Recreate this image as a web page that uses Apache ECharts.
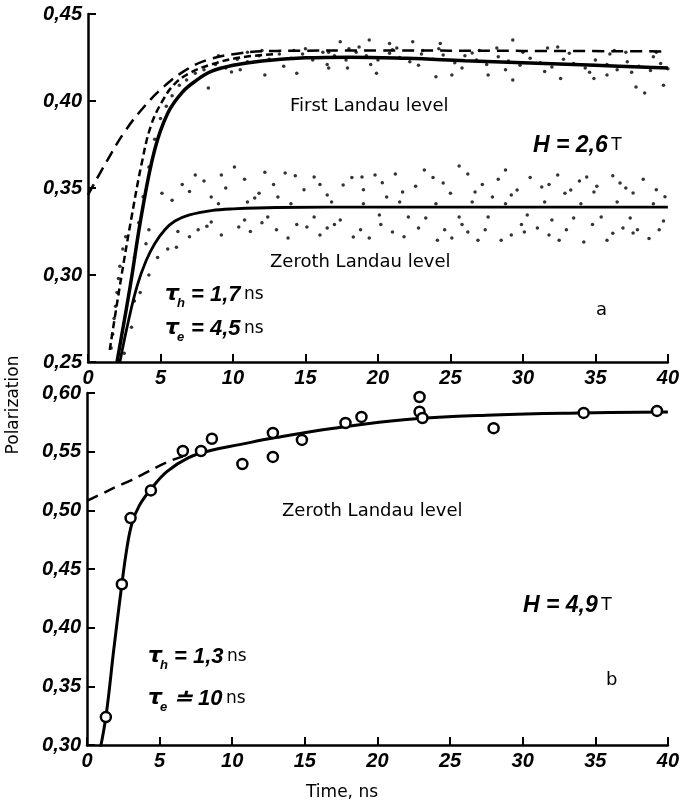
<!DOCTYPE html>
<html>
<head>
<meta charset="utf-8">
<script src="https://cdn.jsdelivr.net/npm/echarts@6.0.0/dist/echarts.min.js"></script>
<style>
  html, body { margin: 0; padding: 0; background: #fff; }
  #chart { width: 682px; height: 803px; }
</style>
</head>
<body>
<div id="chart"></div>
<script>
// ticks
const timeTicks = [0, 5, 10, 15, 20, 25, 30, 35, 40]
const topPolTicks = [0.25, 0.30, 0.35, 0.40, 0.45]
const bottomPolTicks = [0.30, 0.35, 0.40, 0.45, 0.50, 0.55, 0.60]

// panel a: fitted curves [time ns, polarization]
const firstFit = [[2.0, 0.25], [2.9, 0.293], [3.7, 0.335], [4.6, 0.372], [5.5, 0.393], [6.5, 0.405], [7.5, 0.412], [8.5, 0.417], [10, 0.4205], [12, 0.423], [15, 0.4248], [18, 0.4252], [22, 0.4245], [26, 0.4232], [30, 0.422], [35, 0.4205], [40, 0.419]]
const firstDashLong = [[0, 0.346], [1.2, 0.364], [2.5, 0.382], [3.9, 0.397], [5.2, 0.408], [6.6, 0.417], [8.2, 0.4235], [10.5, 0.4275], [13, 0.4288], [20, 0.429], [30, 0.4288], [40, 0.4285]]
const firstDashSteep = [[1.5, 0.257], [2.3, 0.299], [3.0, 0.333], [3.7, 0.364], [4.35, 0.386], [5.2, 0.401], [6.0, 0.41], [7, 0.416], [8.5, 0.421], [10.5, 0.425], [13, 0.427]]
const zerothFit = [[2.2, 0.25], [2.8, 0.274], [3.4, 0.294], [4.0, 0.308], [4.6, 0.318], [5.3, 0.326], [6.0, 0.331], [7.0, 0.3345], [8.5, 0.337], [10, 0.338], [13, 0.3388], [20, 0.339], [30, 0.339], [40, 0.339]]

// panel a: measured points
const firstDots = [
  [1.6, 0.258], [1.7, 0.266], [1.8, 0.275], [1.9, 0.282], [2.0, 0.29], [2.1, 0.298], [2.2, 0.305], [2.4, 0.315], [2.6, 0.322],
  [3.2, 0.31], [3.5, 0.33], [3.8, 0.345], [4.2, 0.362], [4.6, 0.378], [5.0, 0.39], [5.4, 0.397], [5.8, 0.403], [6.3, 0.409],
  [6.8, 0.412], [7.4, 0.416], [8.0, 0.418], [8.8, 0.421], [9.5, 0.419], [10.3, 0.424], [11, 0.4225], [11.8, 0.426],
  [12.5, 0.424], [13.2, 0.427], [14, 0.4245], [14.8, 0.427], [15.5, 0.4235], [16.2, 0.428], [17, 0.426], [17.8, 0.4235],
  [18.5, 0.428], [19.2, 0.426], [20, 0.4235], [20.8, 0.4275], [21.5, 0.425], [22.2, 0.4225], [23, 0.427], [23.8, 0.424],
  [24.5, 0.4265], [25.3, 0.422], [26, 0.426], [26.8, 0.4235], [27.5, 0.421], [28.3, 0.4255], [29, 0.423], [29.8, 0.4205],
  [30.5, 0.4245], [31.2, 0.422], [32, 0.4195], [32.8, 0.424], [33.5, 0.4215], [34.3, 0.419], [35, 0.4235], [35.8, 0.421],
  [36.5, 0.418], [37.2, 0.4225], [38, 0.42], [38.8, 0.4175], [39.5, 0.4215],
  [9.0, 0.426], [10.5, 0.418], [12, 0.429], [13.5, 0.42], [15.0, 0.43], [16.5, 0.421], [18.0, 0.43], [19.5, 0.421], [21, 0.4295],
  [22.8, 0.4205], [24.2, 0.43], [25.8, 0.419], [27.0, 0.429], [28.8, 0.418], [30.0, 0.428], [31.5, 0.417], [33.2, 0.4275],
  [34.6, 0.4165], [36.0, 0.427], [37.5, 0.4165], [39.0, 0.4255], [40, 0.4185],
  [8.3, 0.4075], [17.4, 0.434], [19.4, 0.435], [20.8, 0.433], [22.4, 0.434], [24.3, 0.433], [29.3, 0.435], [39.2, 0.428],
  [38.4, 0.4046], [37.8, 0.408], [39.7, 0.409], [29.3, 0.412], [27.6, 0.415], [25.1, 0.415], [24, 0.414], [19.9, 0.416],
  [17.9, 0.419], [16.6, 0.419], [14.4, 0.416], [12.2, 0.415], [9.9, 0.4167], [32.6, 0.413], [34.9, 0.413], [35.8, 0.415],
  [31.7, 0.4305], [32.4, 0.431], [36.3, 0.429], [37.1, 0.428], [28.2, 0.4305], [26.5, 0.4276], [23.1, 0.429], [21.3, 0.4305],
  [18.7, 0.431], [16.6, 0.428], [14.2, 0.429], [11, 0.428]
]
const zerothDots = [
  [2.5, 0.255], [3.0, 0.27], [3.2, 0.285], [3.6, 0.29], [4.2, 0.3], [4.8, 0.31], [4.0, 0.318], [5.5, 0.315], [6.2, 0.325],
  [10.1, 0.362], [12.2, 0.359], [13.6, 0.3586], [15.6, 0.3563], [18.9, 0.3563], [19.8, 0.3575], [25.6, 0.3626], [23.2, 0.3603],
  [28.8, 0.3603], [32.4, 0.3575], [34.4, 0.3563], [36.7, 0.3529], [7.4, 0.3575], [9.2, 0.3575], [5.1, 0.347], [5.8, 0.343],
  [4.2, 0.326], [6.1, 0.316], [7.6, 0.326], [10.4, 0.3276], [13.8, 0.3213], [15.1, 0.3276], [16.5, 0.327], [18.3, 0.3218],
  [19.4, 0.3213], [21, 0.3247], [24.1, 0.32], [25.1, 0.3213], [26.2, 0.3247], [26.9, 0.32], [28.5, 0.32], [30.1, 0.3247],
  [32.5, 0.32], [34.2, 0.319], [35.8, 0.32], [37.6, 0.3241], [36.9, 0.327],
  [8.5, 0.3305], [10.8, 0.3316], [12.4, 0.3333], [15.6, 0.3333], [17.4, 0.3316], [20.1, 0.3345], [22.1, 0.3333], [23.3, 0.3327],
  [25.6, 0.3333], [27.6, 0.3333], [30.3, 0.3345], [32, 0.3316], [33.5, 0.3327], [35.4, 0.3333], [37.4, 0.3327],
  [13.1, 0.3448], [16.5, 0.346], [17.6, 0.3517], [21.7, 0.3477], [24.5, 0.3529], [26.7, 0.3477], [27.9, 0.3448], [29.6, 0.3489],
  [31.3, 0.3506], [33.3, 0.3489], [34.9, 0.3477], [37.6, 0.3471], [20.6, 0.3448], [11.5, 0.3443], [8.5, 0.3448],
  [6.5, 0.352], [7.0, 0.348], [8.0, 0.354], [9.5, 0.35], [10.8, 0.355], [11.8, 0.347], [12.8, 0.352], [14.3, 0.357], [14.9, 0.349],
  [16.0, 0.352], [18.2, 0.356], [19.0, 0.349], [20.3, 0.353], [21.2, 0.358], [22.6, 0.351], [23.8, 0.356], [25.0, 0.347],
  [26.2, 0.358], [27.2, 0.352], [28.3, 0.355], [29.2, 0.346], [30.5, 0.356], [31.8, 0.352], [32.9, 0.347], [33.9, 0.354],
  [35.1, 0.351], [36.2, 0.357], [37.1, 0.35], [38.3, 0.355], [39.2, 0.349], [39.8, 0.345],
  [7.0, 0.322], [8.2, 0.328], [9.2, 0.323], [11.2, 0.325], [12.0, 0.33], [13.0, 0.326], [14.4, 0.329], [16.0, 0.323], [17.0, 0.329],
  [18.8, 0.326], [20.2, 0.329], [21.8, 0.322], [22.8, 0.327], [24.6, 0.326], [25.8, 0.329], [27.4, 0.326], [29.2, 0.323],
  [29.9, 0.329], [31.0, 0.327], [31.8, 0.323], [33.0, 0.326], [34.8, 0.329], [36.2, 0.324], [37.9, 0.326], [38.7, 0.321],
  [39.4, 0.326], [39.7, 0.331],
  [9.0, 0.341], [11.0, 0.342], [14.0, 0.341], [16.8, 0.342], [19.0, 0.341], [21.5, 0.342], [24.0, 0.341], [26.5, 0.342],
  [28.8, 0.341], [31.5, 0.342], [34.0, 0.341], [36.5, 0.342], [39.0, 0.341]
]

// panel b
const bottomFit = [[0.8, 0.29], [1.3, 0.324], [1.85, 0.382], [2.4, 0.437], [2.75, 0.468], [3.1, 0.489], [3.6, 0.504], [4.4, 0.518], [5.5, 0.533], [7.0, 0.545], [8.5, 0.551], [10.5, 0.556], [13, 0.562], [17, 0.57], [22, 0.5775], [28, 0.5813], [34, 0.583], [40, 0.5838]]
const bottomDash = [[0, 0.508], [1, 0.514], [2, 0.52], [3.1, 0.526], [4.2, 0.533], [5.5, 0.541], [6.6, 0.546]]
const bottomPoints = [[1.3, 0.3238], [2.4, 0.437], [3.0, 0.4934], [4.4, 0.517], [6.6, 0.5506], [7.85, 0.5506], [8.6, 0.561], [10.7, 0.5395], [12.8, 0.566], [12.8, 0.5455], [14.8, 0.56], [17.8, 0.5744], [18.9, 0.5796], [22.9, 0.5966], [22.9, 0.584], [23.1, 0.5787], [28.0, 0.570], [34.2, 0.583], [39.25, 0.5847]]

const numFont = "'Liberation Sans', Arial, sans-serif"
const textFont = "'DejaVu Sans', sans-serif"

const chart = echarts.init(document.getElementById('chart'))

function xAxisOf(grid) {
  return {
    type: 'value', gridIndex: grid, min: timeTicks[0], max: timeTicks[timeTicks.length - 1], interval: 5,
    axisLine: { onZero: false, lineStyle: { color: '#000', width: 2.5 } },
    axisTick: { inside: true, length: 8, lineStyle: { color: '#000', width: 2 } },
    axisLabel: { color: '#000', fontFamily: numFont, fontWeight: 'bold', fontStyle: 'italic', fontSize: 20, margin: 6 },
    splitLine: { show: false }
  }
}
function yAxisOf(grid, ticks) {
  return {
    type: 'value', gridIndex: grid, min: ticks[0], max: ticks[ticks.length - 1], interval: 0.05,
    axisLine: { onZero: false, lineStyle: { color: '#000', width: 2.5 } },
    axisTick: { inside: true, length: 8, lineStyle: { color: '#000', width: 2 } },
    axisLabel: {
      color: '#000', fontFamily: numFont, fontWeight: 'bold', fontStyle: 'italic', fontSize: 20, margin: 6,
      formatter: v => v.toFixed(2).replace('.', ',')
    },
    splitLine: { show: false }
  }
}
function curve(data, grid, dash, width) {
  return {
    type: 'line', data: data, xAxisIndex: grid, yAxisIndex: grid, showSymbol: false,
    smooth: 0.4, silent: true,
    lineStyle: { color: '#000', width: width || 2.5, type: dash || 'solid' }
  }
}

// τ labels with subscripts
function tauLabel(x, y, sub, rest) {
  return [
    { type: 'text', left: x, top: y - 13, style: { text: 'τ', font: "bold italic 22px " + textFont, fill: '#000' } },
    { type: 'text', left: x + 12, top: y + 1, style: { text: sub, font: "bold italic 13px " + numFont, fill: '#000' } },
    {
      type: 'text', left: x + 26, top: y - 12,
      style: {
        text: '{b|' + rest + '} {n|ns}', fill: '#000',
        rich: {
          b: { font: "bold italic 22px " + numFont, fill: '#000' },
          n: { font: "17px " + textFont, fill: '#000' }
        }
      }
    }
  ]
}
function hLabel(x, y, val) {
  return {
    type: 'text', left: x, top: y - 13,
    style: {
      text: '{b|H = ' + val + '} {n|T}', fill: '#000',
      rich: {
        b: { font: "bold italic 23px " + numFont, fill: '#000' },
        n: { font: "17px " + textFont, fill: '#000' }
      }
    }
  }
}
function plainText(x, y, t, size) {
  return { type: 'text', left: x, top: y - size / 2 - 2, style: { text: t, font: size + 'px ' + textFont, fill: '#000' } }
}

const option = {
  animation: false,
  backgroundColor: '#fff',
  grid: [
    { left: 88, top: 14, width: 587, height: 348 },
    { left: 87, top: 393, width: 586, height: 352 }
  ],
  xAxis: [xAxisOf(0), xAxisOf(1)],
  yAxis: [yAxisOf(0, topPolTicks), yAxisOf(1, bottomPolTicks)],
  series: [
    { type: 'scatter', data: firstDots, xAxisIndex: 0, yAxisIndex: 0, symbolSize: 3.5, itemStyle: { color: '#000' }, silent: true },
    { type: 'scatter', data: zerothDots, xAxisIndex: 0, yAxisIndex: 0, symbolSize: 3.5, itemStyle: { color: '#000' }, silent: true },
    curve(firstFit, 0, null, 3.5),
    curve(firstDashLong, 0, [12, 7], 2.5),
    curve(firstDashSteep, 0, [7, 4], 2.5),
    curve(zerothFit, 0, null, 2.8),
    curve(bottomFit, 1, null, 3),
    curve(bottomDash, 1, [12, 7], 2.5),
    {
      type: 'scatter', data: bottomPoints, xAxisIndex: 1, yAxisIndex: 1, symbol: 'circle', symbolSize: 10,
      itemStyle: { color: '#fff', borderColor: '#000', borderWidth: 2.5, opacity: 1 }, silent: true, z: 5
    }
  ],
  graphic: [
    plainText(290, 108, 'First Landau level', 18),
    hLabel(533, 147, '2,6'),
    plainText(270, 264, 'Zeroth Landau level', 18),
    ...tauLabel(165, 296, 'h', '= 1,7'),
    ...tauLabel(165, 330, 'e', '= 4,5'),
    plainText(596, 312, 'a', 18),
    plainText(282, 513, 'Zeroth Landau level', 18),
    hLabel(523, 607, '4,9'),
    ...tauLabel(148, 658, 'h', '= 1,3'),
    ...tauLabel(148, 700, 'e', '≐ 10'),
    plainText(606, 682, 'b', 18),
    { type: 'text', left: 306, top: 784, style: { text: 'Time, ns', font: '17px ' + textFont, fill: '#000' } },
    {
      type: 'text', x: 14, y: 405, rotation: Math.PI / 2,
      style: { text: 'Polarization', font: '17px ' + textFont, fill: '#000', align: 'center', verticalAlign: 'middle' }
    }
  ]
}
chart.setOption(option)
</script>
</body>
</html>
